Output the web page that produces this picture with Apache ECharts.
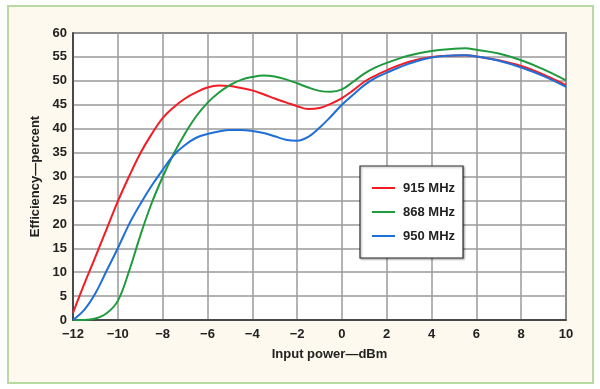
<!DOCTYPE html>
<html>
<head>
<meta charset="utf-8">
<script src="https://cdn.jsdelivr.net/npm/echarts@6/dist/echarts.min.js"></script>
<style>
  html, body { margin: 0; padding: 0; background: #ffffff; }
  #wrap { position: relative; width: 600px; height: 389px; }
  #frame { position: absolute; left: 7px; top: 5px; width: 583px; height: 375px;
           border: 2px solid #b9d9a3; background: #fdf9ee; }
  #chart { position: absolute; left: 0; top: 0; width: 600px; height: 389px; }
</style>
</head>
<body>
<div id="wrap">
  <div id="frame"></div>
  <div id="chart"></div>
</div>
<script>
// Input power (dBm)
const inputPower = [-12,-11.5,-11,-10.5,-10,-9.5,-9,-8.5,-8,-7.5,-7,-6.5,-6,-5.5,-5,-4.5,-4,-3.5,-3,-2.5,-2,-1.5,-1,-0.5,0,0.5,1,1.5,2,3,4,5,5.5,6,7,8,9,10];
// Efficiency (percent)
const eff915 = [1.5,7.5,13.2,19,24.8,30,34.8,38.8,42.2,44.5,46.3,47.6,48.6,49.0,48.9,48.5,48.0,47.2,46.3,45.5,44.7,44.1,44.3,45.2,46.4,48.0,49.8,51.1,52.2,54.0,55.0,55.3,55.35,55.1,54.3,53.1,51.3,49.1];
const eff868 = [0,0,0.3,1.4,4.0,10.2,17.6,24.3,29.9,34.8,39.0,42.6,45.4,47.5,49.1,50.2,50.8,51.1,50.9,50.3,49.5,48.6,47.9,47.7,48.2,49.8,51.5,52.8,53.75,55.3,56.25,56.7,56.8,56.5,55.7,54.3,52.4,50.1];
const eff950 = [0,2.1,5.6,10.3,15,20.0,24.2,28,31.4,34.5,36.6,38.1,38.9,39.4,39.7,39.7,39.5,39.1,38.4,37.7,37.5,38.3,40.2,42.5,45.0,47.1,49.1,50.6,51.7,53.6,54.9,55.3,55.35,55.1,54.2,52.8,51,48.75];
const seriesNames = ['915 MHz', '868 MHz', '950 MHz'];
const xTitle = 'Input power\u2014dBm';
const yTitle = 'Efficiency\u2014percent';

const FONT = "'Liberation Sans', Arial, sans-serif";
const pairs = arr => inputPower.map((x, i) => [x, arr[i]]);
const minus = v => String(v).replace('-', '\u2212');

const chart = echarts.init(document.getElementById('chart'), null, { renderer: 'canvas' });
const lineSeries = (name, data, color) => ({
  name, type: 'line', data: pairs(data), smooth: 0.4, showSymbol: false, symbol: 'none',
  lineStyle: { color, width: 2 }, itemStyle: { color }
});
chart.setOption({
  backgroundColor: 'transparent',
  animation: false,
  grid: { left: 73, right: 34, top: 33, bottom: 69, show: true, backgroundColor: '#ffffff',
          borderColor: '#333333', borderWidth: 1.5 },
  xAxis: {
    type: 'value', min: -12, max: 10, interval: 2,
    name: xTitle, nameLocation: 'middle', nameGap: 28,
    nameTextStyle: { fontFamily: FONT, fontWeight: 'bold', fontSize: 13, color: '#222', padding: [0, 0, 0, 20] },
    axisLine: { show: true, onZero: false, lineStyle: { color: '#333', width: 1.5 } },
    axisTick: { show: false },
    axisLabel: { formatter: minus, fontFamily: FONT, fontWeight: 'bold', fontSize: 13, color: '#222', margin: 8 },
    splitLine: { show: true, lineStyle: { color: '#9a9a9a', width: 1.5 } }
  },
  yAxis: {
    type: 'value', min: 0, max: 60, interval: 5,
    name: yTitle, nameLocation: 'middle', nameGap: 27,
    nameTextStyle: { fontFamily: FONT, fontWeight: 'bold', fontSize: 13, color: '#222' },
    axisLine: { show: true, onZero: false, lineStyle: { color: '#333', width: 1.5 } },
    axisTick: { show: false },
    axisLabel: { fontFamily: FONT, fontWeight: 'bold', fontSize: 13, color: '#222', margin: 6 },
    splitLine: { show: true, lineStyle: { color: '#9a9a9a', width: 1.5 } }
  },
  legend: {
    orient: 'vertical', left: 360, top: 166, data: seriesNames,
    backgroundColor: '#ffffff', borderColor: '#333333', borderWidth: 1.2,
    padding: [15, 8, 15, 12], itemGap: 10, itemWidth: 23, itemHeight: 2, icon: 'rect',
    shadowColor: 'rgba(0,0,0,0.35)', shadowOffsetX: 1, shadowOffsetY: 1, shadowBlur: 2,
    textStyle: { fontFamily: FONT, fontWeight: 'bold', fontSize: 13, color: '#222', padding: [0, 0, 0, 3], lineHeight: 14 }
  },
  series: [
    lineSeries(seriesNames[0], eff915, '#f21c24'),
    lineSeries(seriesNames[1], eff868, '#1f9a3c'),
    lineSeries(seriesNames[2], eff950, '#1f6fd8')
  ]
});
</script>
</body>
</html>
